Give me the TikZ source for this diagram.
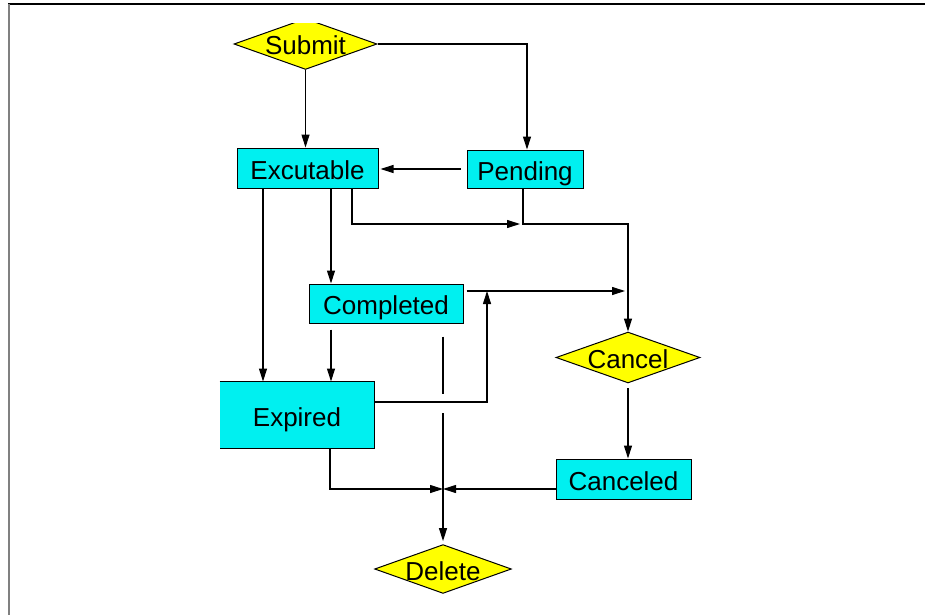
\documentclass[tikz,border=0pt]{standalone}
\usepackage{fontspec}
\setmainfont{Liberation Sans}
\usetikzlibrary{arrows.meta,positioning,calc,shapes.geometric}
\definecolor{StateCyan}{HTML}{00F0F0}
\definecolor{ChoiceYellow}{HTML}{FFFF00}

\begin{document}
\begin{tikzpicture}[
    x=1pt, y=-1pt,
    font=\fontsize{26}{30}\selectfont,
    every node/.style={text height=22pt, text depth=0pt},
    state/.style={draw=black, fill=StateCyan, line width=1pt, inner sep=0pt, align=center},
    choice/.style={diamond, aspect=2.8, draw=black, fill=ChoiceYellow, line width=1pt, inner sep=0pt,
      minimum width=143pt, minimum height=50pt},
    line/.style={line width=1.1pt, color=black},
    arr/.style={line, -{Triangle[length=13pt, width=8pt]}}
  ]
    \useasboundingbox (0,0) rectangle (925,615);
    \draw[line width=1.3pt] (8,4) -- (925,4);
    \draw[line width=2pt, color=gray] (9,4) -- (9,615);

    \begin{scope}
      \clip (0,24) rectangle (925,615);
      \node[choice] (submit) at (305.5,44) {Submit};
    \end{scope}
    \node[state, minimum width=141pt, minimum height=40pt] (exec) at (307.5,168) {Excutable};
    \node[state, minimum width=116pt, minimum height=38pt] (pend) at (525,169) {Pending};
    \node[state, minimum width=154pt, minimum height=39pt] (compl) at (386,303.5) {Completed};
    \node[state, draw=none, minimum width=154pt, minimum height=66pt] (expd) at (297,415) {Expired};
    \draw[line width=1pt] (expd.north west) -- (expd.north east) -- (expd.south east) -- (expd.south west);
    \node[choice, minimum width=144pt, minimum height=49pt] (cancel) at (628,357.5) {Cancel};
    \node[state, minimum width=135pt, minimum height=40pt] (cncld) at (623.5,479) {Canceled};
    \node[choice, minimum width=134pt, minimum height=48pt] (del) at (443,569) {Delete};

    \coordinate (joinP) at ([xshift=-2pt]pend.south |- 0,224);
    \coordinate (joinC) at (cancel.north |- 0,291);
    \coordinate (joinE) at (487,291);
    \coordinate (joinD) at (del.north |- 0,489);
    \coordinate (crossA) at (del.north |- 0,394);
    \coordinate (crossB) at (del.north |- 0,413);

    \draw[arr] (submit.south) -- (submit.south |- exec.north);
    \draw[arr] (submit.east) -| ([xshift=2pt]pend.north);
    \draw[arr, shorten <=6pt, shorten >=2pt] (pend.west) -- (pend.west -| exec.east);
    \draw[arr, shorten >=3pt] ([xshift=44.5pt]exec.south) |- (joinP);
    \draw[arr] ([xshift=-2pt]pend.south) -- (joinP) -| (cancel.north);
    \draw[arr] ([xshift=23.5pt]exec.south) -- ([xshift=23.5pt]exec.south |- compl.north);
    \draw[arr] ([xshift=-44.5pt]exec.south) -- ([xshift=-44.5pt]exec.south |- expd.north);
    \draw[arr, shorten <=6pt] ([xshift=-55pt]compl.south) -- ([xshift=-55pt]compl.south |- expd.north);
    \draw[arr, shorten <=3pt, shorten >=3pt] ([yshift=12.5pt]compl.east) -- (joinC);
    \draw[arr] ([yshift=13pt]expd.east) -| (joinE);
    \draw[line, shorten <=13pt] (compl.south -| del.north) -- (crossA);
    \draw[arr, shorten >=3pt] (crossB) -- (del.north);
    \draw[arr, shorten <=5pt] (cancel.south) -- (cancel.south |- cncld.north);
    \draw[arr] ([xshift=33pt]expd.south) |- (joinD);
    \draw[arr] ([yshift=-10pt]cncld.west) -- (joinD);
  \end{tikzpicture}
\end{document}
